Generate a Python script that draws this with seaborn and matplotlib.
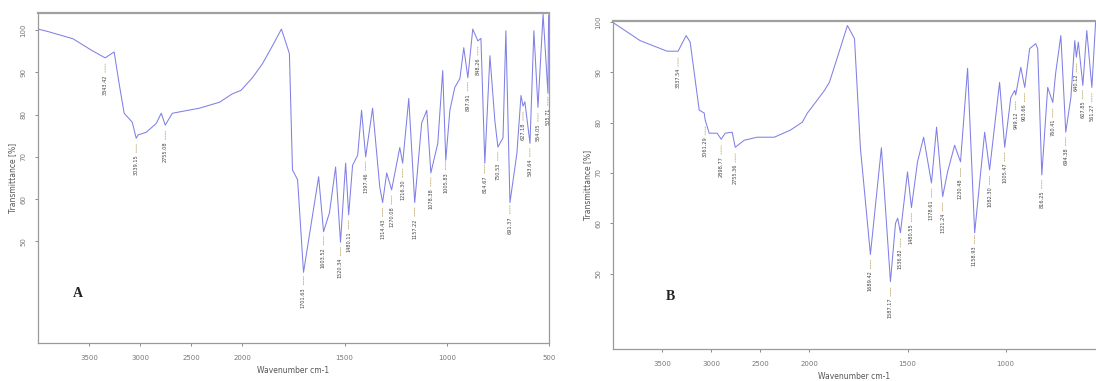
"""
FTIR spectra, panels A and B
"""
import numpy as np
import matplotlib
matplotlib.use('Agg')
import matplotlib.pyplot as plt
import seaborn as sns

# Panel A spectrum (wavenumber, transmittance %)
wn_a = [4000, 3900, 3657, 3470, 3343, 3255, 3206, 3157, 3078, 3039, 3020, 2941,
        2843, 2794, 2755, 2686, 2422, 2225, 2098, 2015, 1951, 1902, 1850, 1809,
        1770, 1755, 1730, 1701, 1627, 1603, 1574, 1544, 1520, 1495, 1480, 1461,
        1436, 1417, 1397, 1363, 1328, 1314, 1294, 1270, 1230, 1216, 1186, 1157,
        1123, 1098, 1078, 1044, 1020, 1005, 985, 961, 936, 917, 897, 873, 848,
        833, 814, 789, 765, 750, 725, 711, 691, 657, 637, 627, 618, 593, 574,
        554, 529, 505, 502]
t_a = [100.2, 99.6, 97.9, 95.1, 93.4, 94.8, 87.3, 80.3, 78.2, 74.4, 75.2, 75.8,
       77.9, 80.3, 77.5, 80.3, 81.5, 82.9, 84.9, 85.7, 88.7, 92.0, 96.5, 100.2,
       94.4, 66.9, 64.6, 42.7, 65.3, 52.3, 56.8, 67.6, 49.8, 68.5, 56.3, 68.0,
       70.4, 81.0, 70.0, 81.5, 62.9, 59.2, 66.2, 62.2, 72.2, 68.5, 83.8, 59.2,
       78.0, 81.0, 66.2, 73.2, 90.4, 69.2, 81.0, 86.4, 88.5, 95.8, 88.7, 100.2,
       97.4, 98.0, 68.5, 93.9, 78.6, 72.3, 74.5, 99.8, 59.2, 70.9, 84.5, 82.0,
       83.0, 73.2, 99.8, 81.7, 103.7, 85.0, 103.5]

# Panel A labelled bands
peaks_a = [3343.42, 3039.15, 2755.08, 1701.63, 1603.52, 1520.34, 1480.11,
           1397.46, 1314.43, 1270.08, 1216.30, 1157.22, 1078.38, 1005.83,
           897.91, 848.26, 814.67, 750.53, 691.37, 627.18, 593.64, 554.05,
           505.71]

# Panel B spectrum
wn_b = [4000, 3724, 3449, 3337, 3255, 3214, 3122, 3071, 3061, 3020, 2939, 2898,
        2857, 2786, 2755, 2663, 2531, 2357, 2194, 2071, 2020, 1969, 1923, 1898,
        1857, 1806, 1770, 1740, 1689, 1633, 1587, 1561, 1550, 1536, 1500, 1480,
        1449, 1418, 1378, 1352, 1321, 1296, 1260, 1230, 1194, 1158, 1107, 1082,
        1031, 1005, 974, 954, 949, 923, 903, 878, 847, 837, 816, 786, 760, 745,
        719, 694, 668, 648, 640, 630, 607, 587, 561, 541]
t_b = [99.9, 96.3, 94.2, 94.2, 97.3, 96.0, 82.5, 81.9, 80.5, 77.9, 77.9, 76.7,
       77.9, 78.1, 75.1, 76.5, 77.1, 77.1, 78.5, 80.1, 81.9, 84.0, 86.4, 88.0,
       93.0, 99.3, 96.7, 75.0, 53.8, 75.0, 48.4, 60.0, 61.0, 58.1, 70.2, 63.1,
       72.2, 77.1, 68.0, 79.1, 65.3, 70.2, 75.5, 72.2, 90.8, 58.1, 78.1, 70.6,
       88.0, 75.1, 85.0, 86.4, 85.5, 91.0, 87.0, 94.7, 95.7, 94.7, 69.6, 87.0,
       84.0, 90.0, 97.3, 78.1, 85.0, 96.3, 93.0, 96.0, 87.4, 98.3, 87.0, 100.7]

peaks_b = [3337.54, 3061.29, 2898.77, 2755.36, 1689.42, 1587.17, 1536.82,
           1480.55, 1378.61, 1321.24, 1230.48, 1158.93, 1082.30, 1005.47,
           949.12, 903.66, 816.25, 760.41, 694.38, 640.12, 607.85, 561.27]

x_ticks = [3500, 3000, 2500, 2000, 1500, 1000, 500]
y_ticks = [50, 60, 70, 80, 90, 100]

LINE_COLOR = '#6060e0'


def fwd(x):
    x = np.asarray(x, dtype=float)
    return np.where(x > 2000, 2000 + (x - 2000) / 2, x)


def inv(y):
    y = np.asarray(y, dtype=float)
    return np.where(y > 2000, 2000 + (y - 2000) * 2, y)


def draw_panel(ax, wn, t, peaks, xlim, ylim, letter, letter_pos):
    sns.lineplot(x=wn, y=t, ax=ax, sort=False, estimator=None,
                 color=LINE_COLOR, linewidth=0.75, alpha=0.8)
    ax.set_xscale('function', functions=(fwd, inv))
    ax.set_xlim(*xlim)
    ax.set_ylim(*ylim)

    # labels under each band
    for p in peaks:
        y = np.interp(p, wn[::-1], t[::-1])
        ax.annotate('', xy=(p, y - 0.8), xytext=(0, -10), textcoords='offset points',
                    xycoords='data',
                    arrowprops=dict(arrowstyle='-', linestyle=(0, (2, 1.5)),
                                    color='#b9a060', linewidth=0.5))
        ax.annotate(f"{p:.2f}", xy=(p, y), xytext=(0, -12), textcoords='offset points',
                    rotation=90, ha='center', va='top', fontsize=3.6, color='#444444')

    ticks = [v for v in x_ticks if min(xlim) <= v <= max(xlim)]
    ax.set_xticks(ticks)
    ax.set_xticklabels([str(v) for v in ticks])
    ax.set_yticks(y_ticks)
    ax.set_yticklabels([str(v) for v in y_ticks], rotation=90, va='center')
    ax.tick_params(axis='both', labelsize=5, colors='#777777', length=2.5,
                   width=0.6, pad=6)
    ax.set_xlabel('Wavenumber cm-1', fontsize=5.5, color='#555555', labelpad=4)
    ax.set_ylabel('Transmittance [%]', fontsize=5.5, color='#555555', labelpad=2)
    for side in ['left', 'bottom', 'right']:
        ax.spines[side].set_color('#9a9a9a')
        ax.spines[side].set_linewidth(0.9)
    ax.spines['top'].set_visible(True)
    ax.spines['top'].set_color('#a0a0a0')
    ax.spines['top'].set_linewidth(1.6)
    ax.text(letter_pos[0], letter_pos[1], letter, transform=ax.transAxes,
            fontsize=10, fontweight='bold', family='Liberation Serif',
            color='#222222', ha='center', va='center')


sns.set_style('ticks')
fig = plt.figure(figsize=(10.96, 3.81), dpi=100)

ax_a = fig.add_axes([38 / 1096, 38 / 381, 511 / 1096, 330 / 381])
draw_panel(ax_a, wn_a, t_a, peaks_a, (4000, 500), (26, 104), 'A', (0.078, 0.15))

ax_b = fig.add_axes([613 / 1096, 32 / 381, 483 / 1096, 328 / 381])
draw_panel(ax_b, wn_b, t_b, peaks_b, (4000, 540), (35, 100.2), 'B', (0.118, 0.16))
ax_b.spines['right'].set_visible(False)

fig.savefig('out.png', dpi=100)
plt.close(fig)
